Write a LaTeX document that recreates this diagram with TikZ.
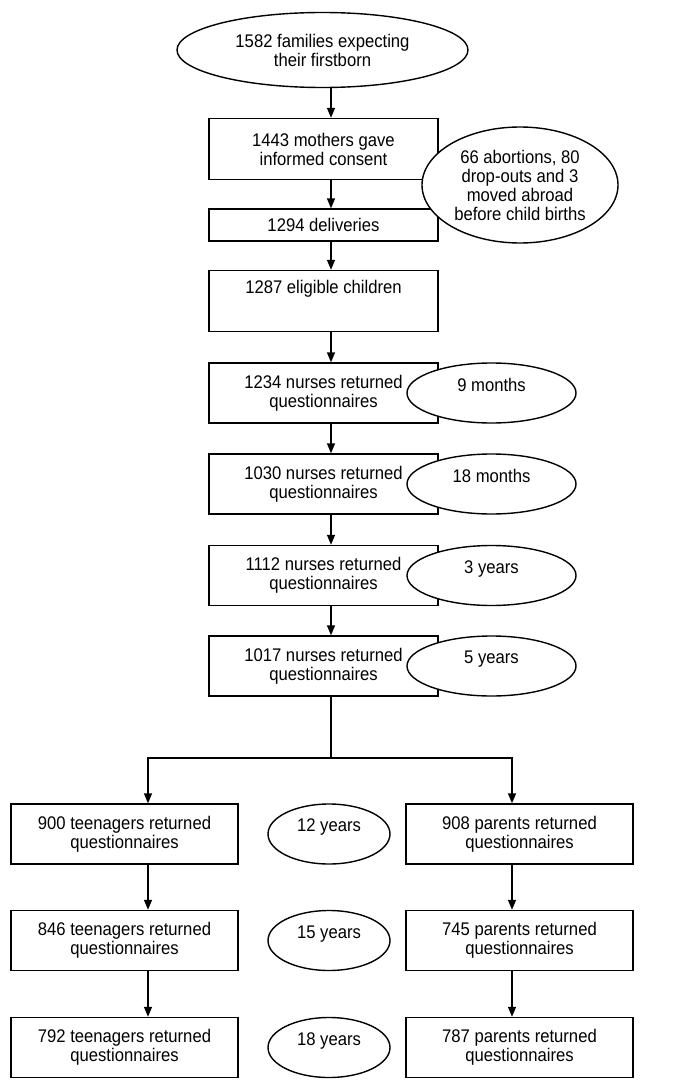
\documentclass[tikz,border=0pt]{standalone}
\usepackage{fontspec}
\setmainfont{Liberation Sans}[FakeStretch=0.91]
\usetikzlibrary{shapes.geometric,arrows.meta}

\tikzset{
  every node/.style={font=\fontsize{18.3}{19}\selectfont, align=center},
  stagebox/.style={draw, line width=1.4pt, rectangle, inner sep=0pt,
    minimum width=229pt, minimum height=61pt},
  agering/.style={draw, line width=1.4pt, ellipse, fill=white, inner sep=0pt,
    minimum width=169pt, minimum height=60pt, text depth=17pt},
  flow/.style={line width=1.4pt, -{Triangle[length=10pt,width=8pt]}}
}

\begin{document}
\begin{tikzpicture}[x=1pt,y=-1pt]
\useasboundingbox (0,0) rectangle (685,1086);
\coordinate (spine) at (331,0);
\coordinate (lspine) at (148,0);
\coordinate (rspine) at (512,0);
\coordinate (split) at (331,758);

% main column
\node[draw, line width=1.4pt, ellipse, inner sep=0pt, minimum width=291pt, minimum height=75pt] (families) at (322.5,50) {1582 families expecting\\their firstborn};
\node[stagebox] (consent) at (323.5,149) {1443 mothers gave\\informed consent};
\node[stagebox, minimum height=32pt] (deliveries) at (323.5,225) {1294 deliveries};
\node[stagebox, text depth=29pt] (eligible) at (323.5,301) {1287 eligible children};
\node[stagebox, minimum height=60pt] (nurse9m) at (323.5,393) {1234 nurses returned\\questionnaires};
\node[stagebox, minimum height=60pt] (nurse18m) at (323.5,484) {1030 nurses returned\\questionnaires};
\node[stagebox, minimum height=60pt] (nurse3y) at (323.5,575.5) {1112 nurses returned\\questionnaires};
\node[stagebox, minimum height=60pt] (nurse5y) at (323.5,666) {1017 nurses returned\\questionnaires};

% ellipses to the right
\node[draw, line width=1.4pt, ellipse, fill=white, inner sep=0pt, minimum width=196pt, minimum height=116pt] (lost) at (520,185) {66 abortions, 80\\drop-outs and 3\\moved abroad\\before child births};
\node[agering] (age9m) at (491.5,393) {9 months};
\node[agering] (age18m) at (491.5,484) {18 months};
\node[agering] (age3y) at (491.5,575.5) {3 years};
\node[agering] (age5y) at (491.5,666) {5 years};

% two branches
\node[stagebox, minimum width=227pt, minimum height=60pt] (teen12) at (124.5,834) {900 teenagers returned\\questionnaires};
\node[stagebox, minimum width=227pt, minimum height=60pt] (teen15) at (124.5,940.5) {846 teenagers returned\\questionnaires};
\node[stagebox, minimum width=227pt, minimum height=60pt] (teen18) at (124.5,1047.5) {792 teenagers returned\\questionnaires};
\node[stagebox, minimum width=227pt, minimum height=60pt] (par12) at (519.5,834) {908 parents returned\\questionnaires};
\node[stagebox, minimum width=227pt, minimum height=60pt] (par15) at (519.5,940.5) {745 parents returned\\questionnaires};
\node[stagebox, minimum width=227pt, minimum height=60pt] (par18) at (519.5,1047.5) {787 parents returned\\questionnaires};
\node[agering, minimum width=122pt] (age12y) at (329,834) {12 years};
\node[agering, minimum width=122pt] (age15y) at (329,940.5) {15 years};
\node[agering, minimum width=122pt] (age18y) at (329,1047.5) {18 years};

% arrows
\draw[flow] (families.south -| spine) -- (consent.north -| spine);
\draw[flow] (consent.south -| spine) -- (deliveries.north -| spine);
\draw[flow] (deliveries.south -| spine) -- (eligible.north -| spine);
\draw[flow] (eligible.south -| spine) -- (nurse9m.north -| spine);
\draw[flow] (nurse9m.south -| spine) -- (nurse18m.north -| spine);
\draw[flow] (nurse18m.south -| spine) -- (nurse3y.north -| spine);
\draw[flow] (nurse3y.south -| spine) -- (nurse5y.north -| spine);
\draw[line width=1.4pt] (nurse5y.south -| spine) -- (split);
\draw[flow] (split) -| (teen12.north -| lspine);
\draw[flow] (split) -| (par12.north -| rspine);
\draw[flow] (teen12.south -| lspine) -- (teen15.north -| lspine);
\draw[flow] (teen15.south -| lspine) -- (teen18.north -| lspine);
\draw[flow] (par12.south -| rspine) -- (par15.north -| rspine);
\draw[flow] (par15.south -| rspine) -- (par18.north -| rspine);
\end{tikzpicture}
\end{document}
